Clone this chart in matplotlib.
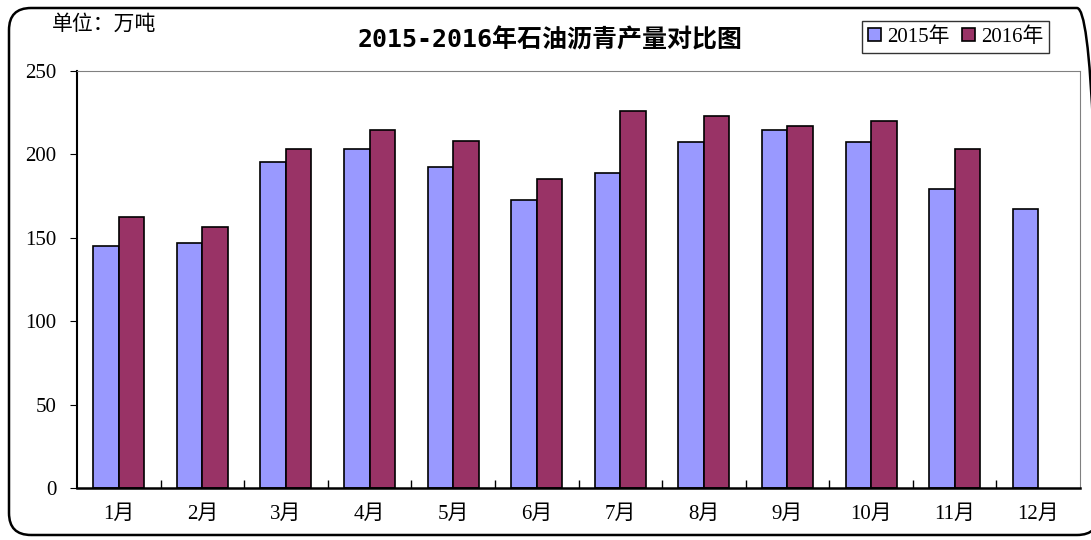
import numpy as np
import matplotlib
matplotlib.use("Agg")
import matplotlib.pyplot as plt
from matplotlib.patches import FancyBboxPatch
from matplotlib.transforms import IdentityTransform

plt.rcParams['font.family'] = ['Liberation Serif', 'Noto Sans CJK SC']

months = ["1月", "2月", "3月", "4月", "5月", "6月", "7月", "8月", "9月", "10月", "11月", "12月"]
prod_2015 = [145, 147, 195.5, 203, 192.5, 172.5, 188.8, 207.2, 214.6, 207.2, 179.5, 167]
prod_2016 = [162.5, 156.5, 203, 214.6, 208, 185, 226.3, 223.2, 216.8, 219.8, 203.5]
series_names = ["2015年", "2016年"]

W, H = 1091, 540
fig = plt.figure(figsize=(W / 100, H / 100), dpi=100)
ax = fig.add_axes([77 / W, 1 - 488 / H, 1003 / W, 417 / H])

# rounded outer frame in pixel units, runs off the right edge like the original
frame = FancyBboxPatch((9, H - 535), 1090, 527,
                       boxstyle="round,pad=0,rounding_size=22",
                       transform=IdentityTransform(), facecolor="none",
                       edgecolor="black", linewidth=1.8)
fig.patches.append(frame)

x = np.arange(len(months))
w = 0.305
ax.bar(x[:len(prod_2015)] - w / 2, prod_2015, w, color="#9999FF", edgecolor="black",
       linewidth=1.2, label=series_names[0])
ax.bar(x[:len(prod_2016)] + w / 2, prod_2016, w, color="#993366", edgecolor="black",
       linewidth=1.2, label=series_names[1])

ax.set_xlim(-0.5, 11.5)
ax.set_ylim(0, 250)
ax.set_yticks(range(0, 251, 50))
ax.tick_params(axis="y", direction="out", length=5, labelsize=15, pad=10)
ax.set_xticks(x)
ax.set_xticklabels(months)
ax.tick_params(axis="x", length=0, labelsize=15, pad=12)
# category separator ticks pointing up
ax.set_xticks(np.arange(0.5, 11.5, 1), minor=True)
ax.tick_params(axis="x", which="minor", direction="in", length=6, width=1)

ax.spines["left"].set_linewidth(1.5)
ax.spines["bottom"].set_linewidth(1.8)
ax.spines["top"].set_color("#808080")
ax.spines["right"].set_color("#808080")

fig.text(550 / W, 1 - 40 / H, "2015-2016年石油沥青产量对比图", ha="center", va="center",
         fontsize=18, fontweight="bold", family=["DejaVu Sans Mono", "Noto Sans CJK SC"])
fig.text(52 / W, 1 - 25 / H, "单位：万吨", ha="left", va="center", fontsize=15)

leg = ax.legend(loc="upper left", bbox_to_anchor=(862 / W, 1 - 21 / H),
                bbox_transform=fig.transFigure, ncol=2, frameon=True, fancybox=False,
                fontsize=15, handlelength=0.6, handleheight=0.6, handletextpad=0.3,
                columnspacing=0.6, borderpad=0.3, borderaxespad=0)
leg.get_frame().set_edgecolor("black")
leg.get_frame().set_linewidth(1)

fig.savefig("out.png", dpi=100)
